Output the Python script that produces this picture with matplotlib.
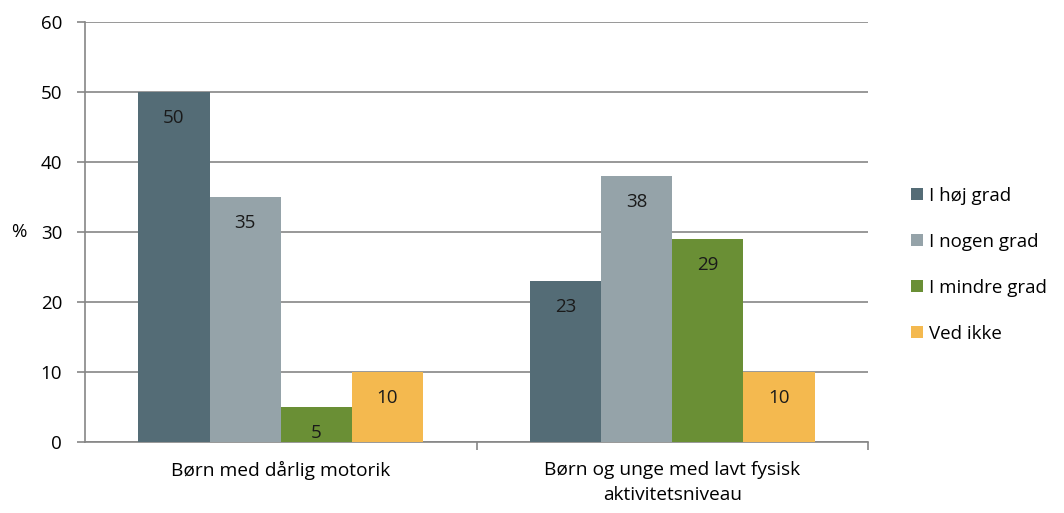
import matplotlib
matplotlib.use("Agg")
import matplotlib.pyplot as plt
import numpy as np

categories = ["Børn med dårlig motorik", "Børn og unge med lavt fysisk\naktivitetsniveau"]
series_names = ["I høj grad", "I nogen grad", "I mindre grad", "Ved ikke"]
values = {
    "I høj grad": [50, 23],
    "I nogen grad": [35, 38],
    "I mindre grad": [5, 29],
    "Ved ikke": [10, 10],
}
colors = ["#546C76", "#95A3A9", "#6A8F35", "#F4B94F"]
y_ticks = [0, 10, 20, 30, 40, 50, 60]

plt.rcParams["font.family"] = ["Open Sans", "DejaVu Sans"]
FS = 13.5

W, H = 1064, 513
fig = plt.figure(figsize=(W / 100, H / 100), dpi=100)
ax = fig.add_axes([85 / W, (H - 442) / H, (868 - 85) / W, (442 - 22) / H])

grid_col = "#868686"
n = len(series_names)
bar_w = 1 / (n + 1.5)
x = np.arange(len(categories))

for i, name in enumerate(series_names):
    xs = x + (i - (n - 1) / 2) * bar_w
    bars = ax.bar(xs, values[name], width=bar_w, color=colors[i], label=name, zorder=3)
    for rect, v in zip(bars, values[name]):
        ax.annotate(str(v), (rect.get_x() + rect.get_width() / 2, v),
                    xytext=(0, -19), textcoords="offset points",
                    ha="center", va="center", fontsize=FS, color="#1a1a1a", zorder=4)

ax.set_yticks(y_ticks)
ax.set_yticklabels([str(t) for t in y_ticks], fontsize=FS)
ax.yaxis.grid(True, color=grid_col, linewidth=1.2, zorder=0)
ax.tick_params(axis="y", length=5.5, color=grid_col, width=1.2, pad=11)

# category labels centred, with separator ticks between categories
ax.set_xticks(x)
ax.set_xticklabels(categories, fontsize=13.8, linespacing=1.5)
ax.tick_params(axis="x", length=0, pad=14)
ax.set_xticks(x + 0.5, minor=True)
ax.tick_params(axis="x", which="minor", length=5.5, color=grid_col, width=1.2)

ax.set_xlim(-0.5, len(categories) - 0.5)
ax.set_ylim(0, 60)

for s in ["top", "right"]:
    ax.spines[s].set_visible(False)
for s in ["left", "bottom"]:
    ax.spines[s].set_color(grid_col)
    ax.spines[s].set_linewidth(1.2)

ax.set_ylabel("%", rotation=0, fontsize=FS, labelpad=16, va="center")

leg = ax.legend(loc="center left", bbox_to_anchor=(1.034, 0.422), frameon=False,
                fontsize=FS, handlelength=0.6, handleheight=0.6,
                handletextpad=0.35, labelspacing=1.5)

fig.savefig("out.png", dpi=100, facecolor="white")
